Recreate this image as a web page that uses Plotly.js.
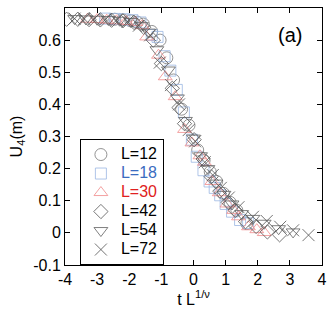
<!DOCTYPE html>
<html>
<head>
<meta charset="utf-8">
<script src="https://cdn.plot.ly/plotly-3.0.1.min.js"></script>
<style>html,body{margin:0;padding:0;background:#fff;}#chart{width:327px;height:312px;}</style>
</head>
<body>
<div id="chart"></div>
<script>
// L=12 (circles)
const x12 = [-2.45, -2.2, -1.95, -1.75, -1.56, -1.3, -1.04, -0.83, -0.62, -0.37, -0.14, 0.13, 0.33, 0.52, 0.72, 0.93, 1.14, 1.35, 1.66];
const y12 = [0.665, 0.663, 0.66, 0.656, 0.650, 0.627, 0.600, 0.545, 0.476, 0.385, 0.335, 0.258, 0.225, 0.19, 0.16, 0.123, 0.095, 0.07, 0.029];
// L=18 (squares)
const x18 = [-2.75, -2.45, -2.15, -1.9, -1.65, -1.3, -1.12, -0.9, -0.72, -0.52, -0.3, -0.05, 0.1, 0.31, 0.5, 0.66, 0.83, 1.0, 1.2, 1.45, 1.7];
const y18 = [0.667, 0.666, 0.665, 0.662, 0.655, 0.616, 0.61, 0.55, 0.505, 0.445, 0.375, 0.29, 0.237, 0.195, 0.16, 0.14, 0.117, 0.09, 0.066, 0.04, 0.03];
// L=30 (triangles up)
const x30 = [-3.3, -3.0, -2.7, -2.4, -2.1, -1.8, -1.6, -1.46, -1.09, -0.88, -0.57, -0.28, -0.05, 0.2, 0.34, 0.57, 0.8, 1.04, 1.25, 1.4, 1.71, 1.97, 2.2];
const y30 = [0.665, 0.664, 0.662, 0.66, 0.658, 0.655, 0.645, 0.61, 0.553, 0.486, 0.424, 0.322, 0.28, 0.24, 0.22, 0.16, 0.125, 0.09, 0.07, 0.05, 0.019, 0.01, 0.001];
// L=42 (diamonds)
const x42 = [-3.95, -3.6, -3.25, -2.9, -2.55, -2.2, -1.85, -1.55, -1.25, -1.0, -0.66, -0.45, -0.28, 0.02, 0.3, 0.55, 0.82, 1.08, 1.3, 1.62, 1.95, 2.3, 2.68];
const y42 = [0.665, 0.665, 0.664, 0.663, 0.662, 0.66, 0.655, 0.64, 0.6, 0.527, 0.45, 0.39, 0.34, 0.29, 0.23, 0.175, 0.13, 0.095, 0.07, 0.035, 0.02, 0.003, -0.006];
// L=54 (triangles down)
const x54 = [-3.7, -3.35, -3.0, -2.65, -2.3, -1.95, -1.62, -1.4, -1.14, -0.78, -0.5, -0.25, 0.0, 0.22, 0.45, 0.7, 0.95, 1.2, 1.5, 1.85, 2.2, 2.65, 3.1];
const y54 = [0.667, 0.666, 0.665, 0.664, 0.662, 0.658, 0.645, 0.625, 0.57, 0.507, 0.42, 0.35, 0.295, 0.24, 0.2, 0.155, 0.12, 0.09, 0.06, 0.045, 0.03, 0.013, 0.003];
// L=72 (crosses)
const x72 = [-3.7, -3.4, -3.1, -2.75, -2.4, -2.05, -1.7, -1.35, -1.05, -0.7, -0.45, -0.15, 0.05, 0.35, 0.6, 0.85, 1.1, 1.4, 1.85, 2.28, 2.7, 3.1, 3.58];
const y72 = [0.667, 0.666, 0.665, 0.664, 0.662, 0.658, 0.645, 0.615, 0.53, 0.46, 0.4, 0.32, 0.285, 0.22, 0.18, 0.14, 0.11, 0.08, 0.05, 0.037, 0.019, 0.008, -0.007];

const seriesNames = ['L=12', 'L=18', 'L=30', 'L=42', 'L=54', 'L=72'];
const xTickVals = [-4, -3, -2, -1, 0, 1, 2, 3, 4];
const xTickText = ['-4', '-3', '-2', '-1', '0', '1', '2', '3', '4'];
const yTickVals = [-0.1, 0, 0.1, 0.2, 0.3, 0.4, 0.5, 0.6, 0.7];
const yTickText = ['-0.1', '0', '0.1', '0.2', '0.3', '0.4', '0.5', '0.6', '0.7'];

const xs = [x12, x18, x30, x42, x54, x72];
const ys = [y12, y18, y30, y42, y54, y72];
const symbols = ['circle-open', 'square-open', 'triangle-up-open', 'diamond-open', 'triangle-down-open', 'x-thin-open'];
const markerColors = ['#777777', '#9ab6e2', '#f08a8a', '#555555', '#606060', '#505050'];
const textColors = ['#000000', '#3a6cc0', '#e02020', '#000000', '#000000', '#000000'];
const sizes = [12, 11, 12, 11, 12, 12];

const traces = xs.map((x, i) => ({
  x: x, y: ys[i], type: 'scatter', mode: 'markers',
  name: '<span style="color:' + textColors[i] + ';font-size:16px">' + seriesNames[i] + '</span>',
  marker: { symbol: symbols[i], size: sizes[i], color: markerColors[i], line: { color: markerColors[i], width: 0.8 } }
}));

const fontFam = 'Liberation Sans, Arial, sans-serif';
const layout = {
  width: 327, height: 312,
  margin: { l: 65, r: 5, t: 8, b: 47 },
  paper_bgcolor: '#fff', plot_bgcolor: '#fff',
  font: { family: fontFam, size: 16, color: '#000' },
  showlegend: true,
  legend: {
    x: 0.058, y: 0.245, xanchor: 'left', yanchor: 'middle',
    bordercolor: '#000', borderwidth: 1, bgcolor: '#fff',
    font: { family: fontFam, size: 11.5, color: '#000' },
    tracegroupgap: 0, itemwidth: 30
  },
  xaxis: {
    range: [-4, 4], tickvals: xTickVals, ticktext: xTickText,
    ticks: 'inside', ticklen: 5, tickwidth: 1, tickcolor: '#000',
    showline: true, linecolor: '#000', linewidth: 1, mirror: 'ticks',
    showgrid: false, zeroline: false,
    tickfont: { family: fontFam, size: 16 },
    title: { text: 't L<sup>1/ν</sup>', font: { family: fontFam, size: 16 }, standoff: 2 }
  },
  yaxis: {
    range: [-0.1, 0.7], tickvals: yTickVals, ticktext: yTickText,
    ticks: 'inside', ticklen: 5, tickwidth: 1, tickcolor: '#000',
    showline: true, linecolor: '#000', linewidth: 1, mirror: 'ticks',
    showgrid: false, zeroline: false,
    tickfont: { family: fontFam, size: 16 },
    title: { text: 'U<sub>4</sub>(m)', font: { family: fontFam, size: 16 }, standoff: 6 }
  },
  annotations: [{
    text: '(a)', xref: 'paper', yref: 'paper', x: 0.875, y: 0.895,
    xanchor: 'center', yanchor: 'middle', showarrow: false,
    font: { family: fontFam, size: 20, color: '#000' }
  }]
};

Plotly.newPlot('chart', traces, layout, { displayModeBar: false, staticPlot: true });
</script>
</body>
</html>
